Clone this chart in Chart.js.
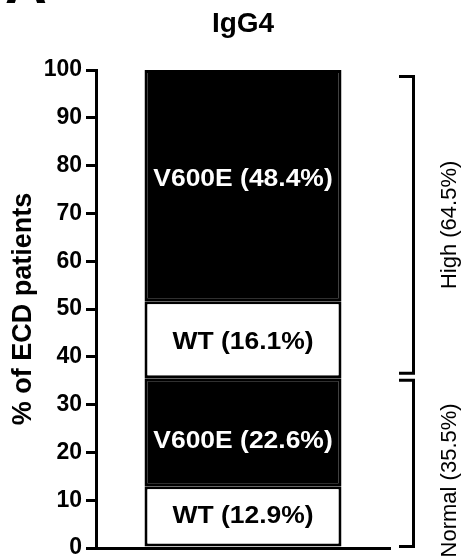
<!DOCTYPE html>
<html><head><meta charset="utf-8">
<script src="https://cdn.jsdelivr.net/npm/chart.js@4/dist/chart.umd.min.js"></script>
<style>html,body{margin:0;padding:0;background:#fff;}#wrap{width:468px;height:557px;}</style>
</head><body><div id="wrap"><canvas id="c" width="468" height="557"></canvas></div>
<script>
// ---- data ----
const categories = ['IgG4'];
const segmentNames = ['WT', 'V600E', 'WT', 'V600E'];
const segmentValues = [12.9, 22.6, 16.1, 48.4];
const segmentLabels = ['WT (12.9%)', 'V600E (22.6%)', 'WT (16.1%)', 'V600E (48.4%)'];
const groupLabels = ['Normal (35.5%)', 'High (64.5%)'];
const groupValues = [35.5, 64.5];
const yTicks = [0, 10, 20, 30, 40, 50, 60, 70, 80, 90, 100];
const chartTitle = 'IgG4';
const yTitle = '% of ECD patients';
const panelLetter = 'A';

// ---- style ----
const FONT = '"Liberation Sans", Arial, Helvetica, sans-serif';
const segFill = { 'WT': '#ffffff', 'V600E': '#000000' };
const segText = { 'WT': '#000000', 'V600E': '#ffffff' };
const labelNudge = [0, 9.5, 2.5, -6];      // px, label placement tweak
const labelStretch = 1.15;                 // horizontal text stretch
const bracketInsets = [[1.5, 2], [5, 6.5]];// px inset at low/high end
const groupLabelNudge = [17, 0];

const overlay = {
  id: 'overlay',
  afterDraw(chart) {
    const ctx = chart.ctx;
    const area = chart.chartArea;
    const ys = chart.scales.y;
    ctx.save();
    // segment labels
    ctx.textAlign = 'center';
    ctx.textBaseline = 'middle';
    ctx.font = 'bold 23px ' + FONT;
    segmentLabels.forEach((t, i) => {
      const el = chart.getDatasetMeta(i).data[0];
      const cy = (el.y + el.base) / 2 + labelNudge[i];
      ctx.save();
      ctx.translate(el.x, cy);
      ctx.scale(labelStretch, 1);
      ctx.fillStyle = segText[segmentNames[i]];
      ctx.fillText(t, 0, 0);
      ctx.restore();
    });
    // brackets + group labels
    let acc = 0;
    const armL = area.right + 9, armR = area.right + 23.5;
    groupValues.forEach((v, i) => {
      const y0 = ys.getPixelForValue(acc) - bracketInsets[i][0];
      const y1 = ys.getPixelForValue(acc + v) + bracketInsets[i][1];
      acc += v;
      ctx.strokeStyle = '#000';
      ctx.lineWidth = 3;
      ctx.lineJoin = 'miter';
      ctx.lineCap = 'butt';
      ctx.beginPath();
      ctx.moveTo(armL, y1);
      ctx.lineTo(armR, y1);
      ctx.lineTo(armR, y0);
      ctx.lineTo(armL, y0);
      ctx.stroke();
      ctx.save();
      ctx.translate(456, (y0 + y1) / 2 + groupLabelNudge[i]);
      ctx.rotate(-Math.PI / 2);
      ctx.font = '22px ' + FONT;
      ctx.fillStyle = '#000';
      ctx.textAlign = 'center';
      ctx.textBaseline = 'alphabetic';
      ctx.fillText(groupLabels[i], 0, 0);
      ctx.restore();
    });
    // title
    ctx.fillStyle = '#000';
    ctx.font = 'bold 28px ' + FONT;
    ctx.textAlign = 'center';
    ctx.textBaseline = 'alphabetic';
    ctx.fillText(chartTitle, (area.left + area.right) / 2, 32);
    // panel letter (cut off at top)
    ctx.font = 'bold 58px ' + FONT;
    ctx.textAlign = 'left';
    ctx.fillText(panelLetter, 5, 3);
    ctx.restore();
  }
};

new Chart(document.getElementById('c'), {
  type: 'bar',
  data: {
    labels: categories,
    datasets: segmentValues.map((v, i) => ({
      label: segmentLabels[i],
      data: [v],
      backgroundColor: segFill[segmentNames[i]],
      borderColor: '#000',
      borderWidth: 3,
      borderSkipped: false,
      barPercentage: 0.67,
      categoryPercentage: 1
    }))
  },
  options: {
    responsive: false,
    animation: false,
    devicePixelRatio: 1,
    layout: { padding: { top: 70, right: 78, bottom: 9, left: 0 } },
    plugins: { legend: { display: false }, tooltip: { enabled: false }, title: { display: false } },
    scales: {
      x: {
        stacked: true,
        grid: { display: false },
        ticks: { display: false },
        border: { display: true, color: '#000', width: 3 },
        afterFit: s => { s.height = 0; s.paddingLeft = 0; s.paddingRight = 0; }
      },
      y: {
        stacked: true,
        min: 0, max: 100,
        afterBuildTicks: s => { s.ticks = yTicks.map(v => ({ value: v })); },
        ticks: { color: '#000', padding: 4, font: { family: FONT, size: 23, weight: 'bold' } },
        grid: { drawOnChartArea: false, drawTicks: true, tickLength: 10, lineWidth: 3, color: '#000' },
        border: { display: true, color: '#000', width: 3 },
        title: { display: true, text: yTitle, color: '#000', padding: { top: 7, bottom: 0 },
                 font: { family: FONT, size: 27, weight: 'bold' } },
        afterFit: s => { s.width = 96; s.paddingTop = 0; s.paddingBottom = 0; }
      }
    }
  },
  plugins: [overlay]
});
</script></body></html>
